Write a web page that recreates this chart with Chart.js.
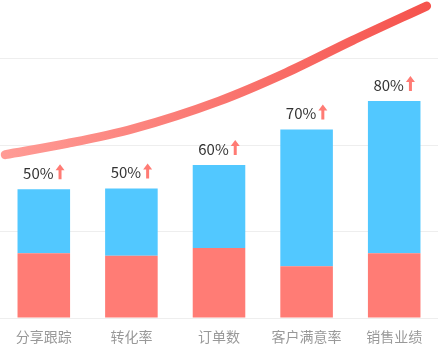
<!DOCTYPE html>
<html>
<head>
<meta charset="utf-8">
<script src="https://cdn.jsdelivr.net/npm/chart.js@4.4.1/dist/chart.umd.min.js"></script>
<style>
  html, body { margin: 0; padding: 0; background: #fff; }
</style>
</head>
<body>
<canvas id="myChart" width="438" height="344"></canvas>
<script>
    const categories = ['分享跟踪', '转化率', '订单数', '客户满意率', '销售业绩'];
    const baseValues = [0.75, 0.72, 0.81, 0.60, 0.75];
    const topValues = [0.74, 0.78, 0.96, 1.58, 1.76];
    const rateLabels = ['50%', '50%', '60%', '70%', '80%'];

    // trend curve, x in category index units
    const trendX = [-0.44, 0.27, 1.02, 2.0, 2.77, 3.52, 4.37];
    const trendY = [1.89, 2.02, 2.19, 2.51, 2.84, 3.21, 3.61];

    const fontFamily = "'Noto Sans CJK SC', 'Noto Sans', sans-serif";

    // percentage + red arrow above each bar
    const rateLabelPlugin = {
        id: 'rateLabels',
        afterDatasetsDraw(chart) {
            const ctx = chart.ctx;
            const meta = chart.getDatasetMeta(1);
            ctx.save();
            ctx.font = '15px ' + fontFamily;
            ctx.textBaseline = 'middle';
            ctx.textAlign = 'left';
            meta.data.forEach(function (bar, i) {
                const text = rateLabels[i];
                const tw = ctx.measureText(text).width;
                const arrowW = 9;
                const gap = 2;
                const x0 = bar.x - (tw + gap + arrowW) / 2;
                const cy = bar.y - 16;
                ctx.fillStyle = '#333';
                ctx.fillText(text, x0, cy);

                // arrow
                const ax = x0 + tw + gap + arrowW / 2;
                const top = cy - 9;
                const neck = top + 6;
                const bottom = cy + 6;
                ctx.fillStyle = '#ff7b74';
                ctx.beginPath();
                ctx.moveTo(ax, top);
                ctx.lineTo(ax + arrowW / 2, neck);
                ctx.lineTo(ax + 1.5, neck);
                ctx.lineTo(ax + 1.5, bottom);
                ctx.lineTo(ax - 1.5, bottom);
                ctx.lineTo(ax - 1.5, neck);
                ctx.lineTo(ax - arrowW / 2, neck);
                ctx.closePath();
                ctx.fill();
            });
            ctx.restore();
        }
    };

    const toPoints = function (values) {
        return values.map(function (v, i) { return { x: i, y: v }; });
    };

    const data = {
        datasets: [{
            label: 'base',
            data: toPoints(baseValues),
            backgroundColor: '#ff7c75',
            barPercentage: 0.6,
            categoryPercentage: 1,
            order: 2
        }, {
            label: 'top',
            data: toPoints(topValues),
            backgroundColor: '#52c8ff',
            barPercentage: 0.6,
            categoryPercentage: 1,
            order: 2
        }, {
            type: 'line',
            label: 'trend',
            yAxisID: 'yt',
            data: trendX.map(function (x, i) { return { x: x, y: trendY[i] }; }),
            borderWidth: 9,
            borderCapStyle: 'round',
            borderColor: function (context) {
                const area = context.chart.chartArea;
                if (!area) return '#f7655e';
                const g = context.chart.ctx.createLinearGradient(area.left, 0, area.right, 0);
                g.addColorStop(0, '#ff9c96');
                g.addColorStop(1, '#f5514b');
                return g;
            },
            pointRadius: 0,
            cubicInterpolationMode: 'monotone',
            fill: false,
            clip: false,
            order: 1
        }]
    };

    const config = {
        type: 'bar',
        data: data,
        options: {
            responsive: false,
            animation: false,
            layout: { padding: 0 },
            plugins: {
                legend: { display: false },
                tooltip: { enabled: false }
            },
            scales: {
                x: {
                    type: 'linear',
                    stacked: true,
                    offset: false,
                    min: -0.5,
                    max: 4.5,
                    grid: { display: false, drawTicks: false },
                    border: { display: false },
                    afterBuildTicks: function (scale) {
                        scale.ticks = categories.map(function (c, i) { return { value: i }; });
                    },
                    afterFit: function (scale) { scale.height = 26; },
                    ticks: {
                        maxRotation: 0,
                        autoSkip: false,
                        color: '#999',
                        padding: 10,
                        font: { family: fontFamily, size: 14 },
                        callback: function (value) {
                            return categories[value];
                        }
                    }
                },
                y: {
                    stacked: true,
                    min: 0,
                    max: 3.68,
                    border: { display: false },
                    grid: {
                        drawTicks: false,
                        color: function (ctx) {
                            return Number.isInteger(ctx.tick.value) ? '#eeeeee' : 'rgba(0,0,0,0)';
                        }
                    },
                    ticks: {
                        display: false,
                        stepSize: 1
                    }
                },
                yt: {
                    type: 'linear',
                    display: false,
                    min: 0,
                    max: 3.68
                }
            }
        },
        plugins: [rateLabelPlugin]
    };

    let myChart = new Chart(
        document.getElementById('myChart'),
        config,
    );
</script>
</body>
</html>
